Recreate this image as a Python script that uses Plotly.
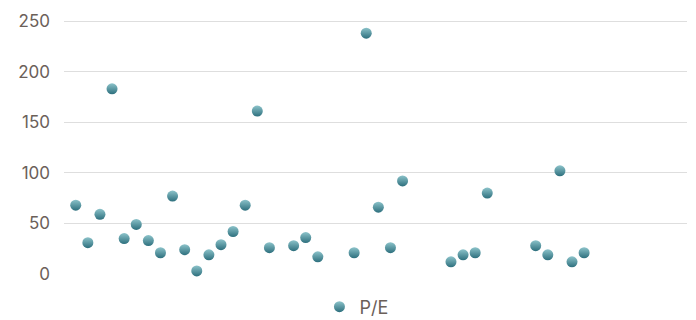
import plotly.graph_objects as go

# category index positions (gaps are categories without a value)
x_idx = [0, 1, 2, 3, 4, 5, 6, 7, 8, 9, 10, 11, 12, 13, 14, 15, 16,
         18, 19, 20, 23, 24, 25, 26, 27, 31, 32, 33, 34, 38, 39, 40, 41, 42]
pe = [68, 31, 59, 183, 35, 49, 33, 21, 77, 24, 3, 19, 29, 42, 68, 161, 26,
      28, 36, 17, 21, 238, 66, 26, 92, 12, 19, 21, 80, 28, 19, 102, 12, 21]
y_ticks = [0, 50, 100, 150, 200, 250]

text_color = "#6b6059"

fig = go.Figure()
fig.add_trace(go.Scatter(
    x=x_idx, y=pe, mode="markers", name="P/E",
    marker=dict(size=11, color="#8cc3ca",
                gradient=dict(type="vertical", color="#2d6f7d"),
                line=dict(width=0)),
    cliponaxis=False,
))

fig.update_layout(
    width=696, height=320,
    margin=dict(l=64, r=9, t=20, b=46, autoexpand=False),
    paper_bgcolor="white", plot_bgcolor="white",
    font=dict(family="Inter, sans-serif", size=17, color=text_color),
    showlegend=True,
    legend=dict(orientation="h", x=0.41, xanchor="left", y=-0.13, yanchor="middle",
                font=dict(size=18, color=text_color)),
    xaxis=dict(range=[-0.97, 50.5], showticklabels=False, showgrid=False,
               zeroline=False, showline=False, ticks=""),
    yaxis=dict(range=[0, 251], tickvals=y_ticks, showgrid=True, gridcolor="#dedede",
               gridwidth=1, zeroline=False, showline=False, ticks="",
               ticklabelstandoff=13, tickfont=dict(size=17, color=text_color)),
)

fig.write_html("out.html", config={"displayModeBar": False},
               post_script="document.body.style.margin='0';document.body.style.padding='0';")
